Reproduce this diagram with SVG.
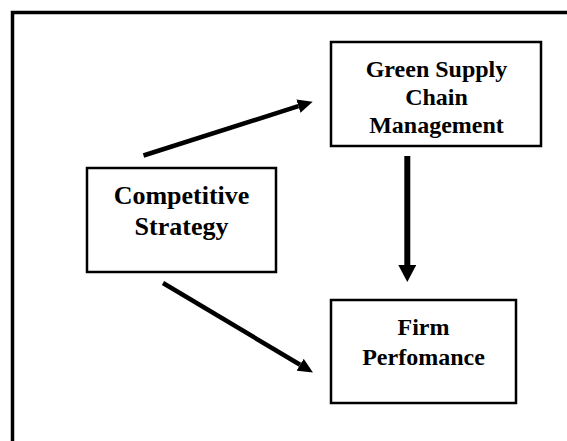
<svg xmlns="http://www.w3.org/2000/svg" width="567" height="441" viewBox="0 0 567 441">
<style>
.box{fill:#fff;stroke:#000;stroke-width:2.5}
.lbl{font-family:"Liberation Serif","Times New Roman",serif;font-weight:bold;fill:#000;text-anchor:middle}
.con{stroke:#000;fill:none}
</style>
<defs>
<marker id="ah" markerUnits="userSpaceOnUse" viewBox="0 0 15 14" refX="0" refY="7" markerWidth="15" markerHeight="14" orient="auto">
<path d="M0,0 L15,7 L0,14 z" fill="#000"/>
</marker>
<marker id="ahv" markerUnits="userSpaceOnUse" viewBox="0 0 17 18" refX="0" refY="9" markerWidth="17" markerHeight="18" orient="auto">
<path d="M0,0 L17,9 L0,18 z" fill="#000"/>
</marker>
</defs>
<rect width="567" height="441" fill="#fff"/>
<rect x="12.5" y="12.5" width="600" height="500" fill="none" stroke="#000" stroke-width="3.5"/>
<g id="connectors">
<line class="con" x1="143.5" y1="155.5" x2="298.4" y2="106.2" stroke-width="4.5" marker-end="url(#ah)"/>
<line class="con" x1="407.3" y1="156" x2="407.3" y2="265" stroke-width="6" marker-end="url(#ahv)"/>
<line class="con" x1="163" y1="283" x2="300.1" y2="364.8" stroke-width="4.5" marker-end="url(#ah)"/>
</g>
<g id="gscm">
<rect class="box" x="331" y="42" width="210" height="104"/>
<text class="lbl" font-size="24" x="436.5" y="77">Green Supply</text>
<text class="lbl" font-size="24" x="436.5" y="105">Chain</text>
<text class="lbl" font-size="24" x="436.5" y="133">Management</text>
</g>
<g id="competitive">
<rect class="box" x="87" y="168" width="189" height="104"/>
<text class="lbl" font-size="26" x="181.5" y="204">Competitive</text>
<text class="lbl" font-size="26" x="181.5" y="235">Strategy</text>
</g>
<g id="firm">
<rect class="box" x="331" y="300" width="185" height="103"/>
<text class="lbl" font-size="24" x="423.5" y="335">Firm</text>
<text class="lbl" font-size="24" x="423.5" y="365">Perfomance</text>
</g>
</svg>
